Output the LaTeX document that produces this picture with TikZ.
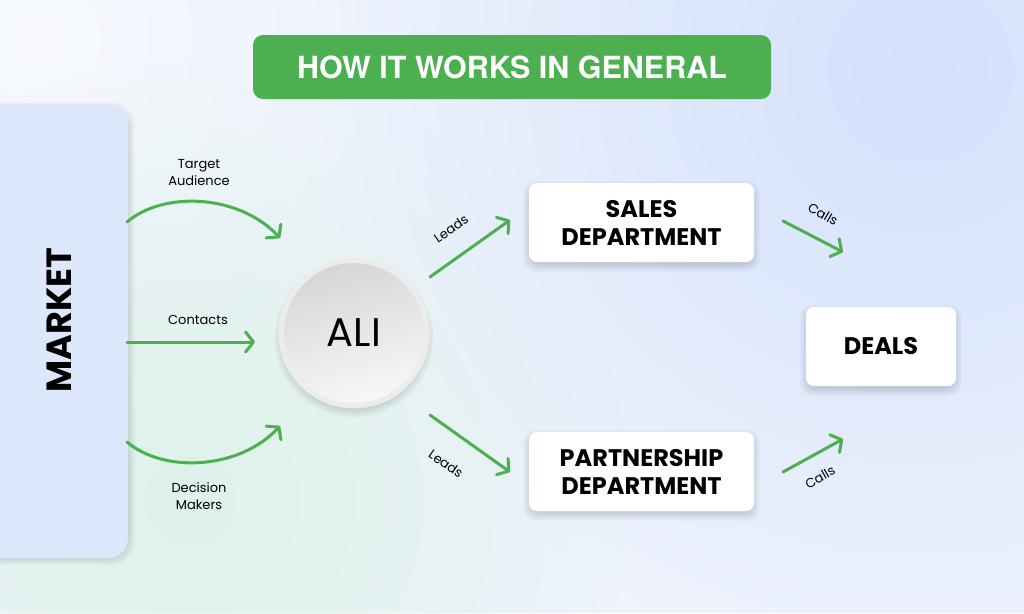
\documentclass[tikz,border=0pt]{standalone}
\usepackage{fontspec}
\setmainfont{Poppins}
\newfontfamily\titlefont{TeX Gyre Heros}
\usetikzlibrary{arrows.meta,fadings}

\definecolor{bg}{HTML}{EEF3FC}
\definecolor{tintblue}{HTML}{D4E1FC}
\definecolor{tintgreen}{HTML}{DEF2E9}
\definecolor{gr}{HTML}{4CAF50}
\definecolor{panel}{HTML}{DDE7FC}
\definecolor{rim}{HTML}{ECECEC}

\tikzfading[name=softfade, inner color=transparent!0, outer color=transparent!100]

\tikzset{
  whitebox/.style={fill=white, rounded corners=8pt, minimum width=225pt, minimum height=79pt,
    align=center, inner sep=0pt, font=\bfseries\fontsize{24}{28}\selectfont},
  arr/.style={draw=gr, line width=3pt, line cap=round,
    -{Straight Barb[length=8pt, width=20pt, line width=3pt, round]}},
  smalllabel/.style={font=\fontsize{13}{17}\selectfont, align=center, inner sep=0pt},
  shadowlayer/.style={fill=black, opacity=0.014, rounded corners=12pt},
}

% soft shadow under a rectangular node
\newcommand{\boxshadow}[1]{%
  \foreach \i in {1,...,9}{%
    \fill[shadowlayer] ([xshift=-\i pt+3pt, yshift=-4pt-\i pt+3pt] #1.south west)
      rectangle ([xshift=\i pt-3pt, yshift=-4pt+\i pt-3pt] #1.north east);
  }%
}

\begin{document}
\begin{tikzpicture}[x=1pt,y=-1pt]
\useasboundingbox (0,0) rectangle (1024,613);
% background
\fill[bg] (0,0) rectangle (1024,613);
\fill[white, opacity=0.5, path fading=softfade] (40,40) circle (360);
\fill[tintblue, path fading=softfade] (920,70) circle (600);
\fill[tintgreen, path fading=softfade] (190,500) circle (440);

% title
\node[fill=gr, rounded corners=10pt, minimum width=518pt, minimum height=64pt, inner sep=0pt,
      text=white, font=\titlefont\bfseries\fontsize{30.5}{36}\selectfont] (title) at (512,67) {HOW IT WORKS IN GENERAL};

% market panel
\coordinate (mkc) at (54,331.5);
\foreach \i in {1,...,9}{%
  \fill[shadowlayer, rounded corners=22pt] ([xshift=-74pt-\i pt+4pt, yshift=-2pt-226.5pt-\i pt+4pt] mkc)
    rectangle ([xshift=74pt+\i pt-2pt, yshift=-2pt+226.5pt+\i pt-4pt] mkc);
}
\node[fill=panel, rounded corners=20pt, minimum width=148pt, minimum height=453pt, inner sep=0pt] (market) at (mkc) {};
\node[rotate=90, font=\bfseries\fontsize{35}{40}\selectfont, inner sep=0pt] (markettext) at (59,320) {MARKET};

% ALI circle
\coordinate (alic) at (354,333);
\foreach \i in {1,...,10}{%
  \fill[black, opacity=0.016] ([yshift=-5pt] alic) circle ({(68+\i*1.2)*1pt});
}
\node[circle, fill=rim, minimum size=151pt, inner sep=0pt] (ali) at (alic) {};
\shade[top color=black!16, bottom color=white!97!black, shading angle=15] (ali.center) circle (70pt);
\node[font=\fontsize{40}{44}\selectfont, inner sep=0pt] (alitext) at (ali.center) {ALI};

% boxes (empty outlines first, for the shadows)
\coordinate (salesc) at (641.5,222.5);
\coordinate (partc) at (641.5,471.5);
\coordinate (dealsc) at (881,346.5);
\path node[whitebox, fill=none] (sales0) at (salesc) {}
      node[whitebox, fill=none] (partner0) at (partc) {}
      node[whitebox, minimum width=150pt, fill=none] (deals0) at (dealsc) {};
\boxshadow{sales0}
\boxshadow{partner0}
\boxshadow{deals0}
\node[whitebox] (sales) at (salesc) {SALES\\DEPARTMENT};
\node[whitebox] (partner) at (partc) {PARTNERSHIP\\DEPARTMENT};
\node[whitebox, minimum width=150pt] (deals) at (dealsc) {DEALS};

% arrow end points
\coordinate (ta0) at (127,222);
\coordinate (ta1) at (280,238);
\coordinate (co0) at (127,342);
\coordinate (co1) at (255,342);
\coordinate (dm0) at (127,442);
\coordinate (dm1) at (280,426);
\coordinate (l10) at (430,277);
\coordinate (l11) at (510,220);
\coordinate (l20) at (430,415);
\coordinate (l21) at (510,472);
\coordinate (c10) at (783,221);
\coordinate (c11) at (843,252);
\coordinate (c20) at (783,472);
\coordinate (c21) at (843,439);

% arrows
\draw[arr] (ta0) .. controls (165,190) and (240,195) .. (ta1);
\draw[arr] (co0) -- (co1);
\draw[arr] (dm0) .. controls (165,474) and (240,469) .. (dm1);
\draw[arr] (l10) -- (l11);
\draw[arr] (l20) -- (l21);
\draw[arr] (c10) -- (c11);
\draw[arr] (c20) -- (c21);

% labels
\node[smalllabel] (lta) at (199,173) {Target\\Audience};
\node[smalllabel] (lco) at (198,320) {Contacts};
\node[smalllabel] (ldm) at (199,496) {Decision\\Makers};
\node[smalllabel, rotate=35] (ll1) at (451,229) {Leads};
\node[smalllabel, rotate=-35] (ll2) at (446,464) {Leads};
\node[smalllabel, rotate=-30] (lc1) at (823,214) {Calls};
\node[smalllabel, rotate=30] (lc2) at (820,477) {Calls};
\end{tikzpicture}
\end{document}
